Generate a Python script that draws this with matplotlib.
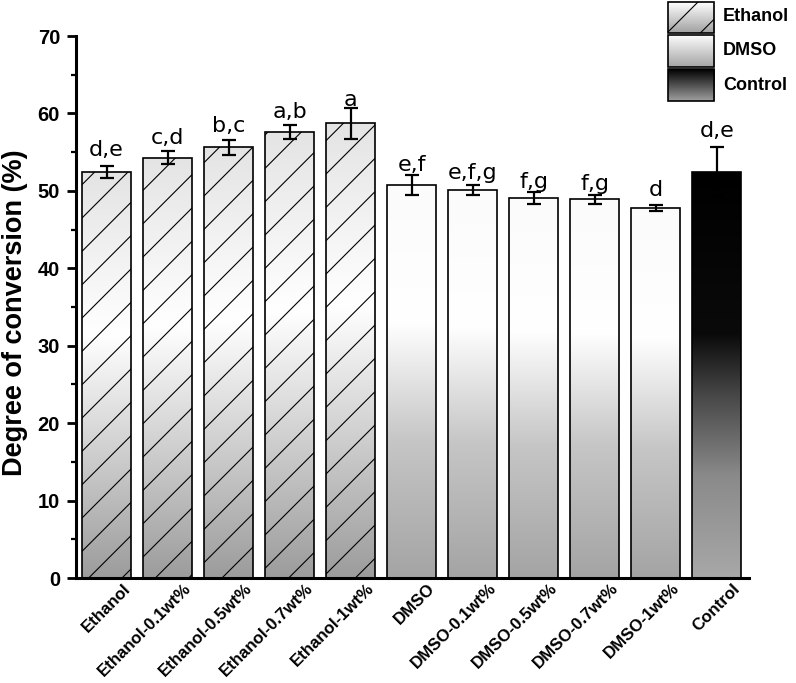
import numpy as np
import matplotlib
matplotlib.use("Agg")
import matplotlib.pyplot as plt
from matplotlib.colors import LinearSegmentedColormap
from matplotlib.patches import Rectangle
from matplotlib.transforms import ScaledTranslation
from matplotlib.ticker import MultipleLocator

plt.rcParams["font.family"] = ["Liberation Sans", "DejaVu Sans"]
plt.rcParams["hatch.linewidth"] = 0.8

groups = ["Ethanol", "Ethanol-0.1wt%", "Ethanol-0.5wt%", "Ethanol-0.7wt%", "Ethanol-1wt%",
          "DMSO", "DMSO-0.1wt%", "DMSO-0.5wt%", "DMSO-0.7wt%", "DMSO-1wt%", "Control"]
solvent = ["Ethanol"] * 5 + ["DMSO"] * 5 + ["Control"]
dc_mean = [52.4, 54.3, 55.6, 57.6, 58.7, 50.8, 50.1, 49.1, 48.9, 47.8, 52.5]
dc_err = [0.8, 0.8, 1.0, 0.85, 2.0, 1.3, 0.65, 0.8, 0.6, 0.4, 3.1]
letters = ["d,e", "c,d", "b,c", "a,b", "a", "e,f", "e,f,g", "f,g", "f,g", "d", "d,e"]
letter_gap = [1.3, 0.9, 1.0, 0.9, 0.2, 0.5, 0.75, 0.5, 0.6, 1.1, 1.3]
legend_names = ["Ethanol", "DMSO", "Control"]

# gradient fills, bottom -> top
CMAPS = {
    "Ethanol": LinearSegmentedColormap.from_list(
        "eth", [(0, "#9c9c9c"), (0.6, "#ffffff"), (1, "#e4e4e4")]),
    "DMSO": LinearSegmentedColormap.from_list(
        "dmso", [(0, "#a4a4a4"), (0.35, "#c6c6c6"), (0.65, "#ffffff"), (1, "#fbfbfb")]),
    "Control": LinearSegmentedColormap.from_list(
        "ctl", [(0, "#a8a8a8"), (0.25, "#8a8a8a"), (0.45, "#474747"),
                (0.6, "#0a0a0a"), (1, "#000000")]),
}
LEG_CMAPS = {
    "Ethanol": LinearSegmentedColormap.from_list("le", ["#a0a0a0", "#ffffff"]),
    "DMSO": LinearSegmentedColormap.from_list("ld", ["#a4a4a4", "#ffffff"]),
    "Control": LinearSegmentedColormap.from_list("lc", ["#a0a0a0", "#000000"]),
}
grad = np.linspace(0, 1, 256).reshape(-1, 1)


def main():
    fig = plt.figure(figsize=(7.96, 6.83), dpi=100)
    ax = fig.add_axes([76 / 796, 1 - 578 / 683, (749 - 76) / 796, (578 - 36) / 683])
    ax.set_xlim(-0.5, 10.53)
    ax.set_ylim(0, 70)
    ax.set_autoscale_on(False)

    x = np.arange(len(groups))
    w = 0.8
    bars = ax.bar(x, dc_mean, width=w, facecolor="none", edgecolor="black",
                  linewidth=1.2, zorder=3)
    for b, s in zip(bars, solvent):
        bx = b.get_x()
        im = ax.imshow(grad, cmap=CMAPS[s], origin="lower", aspect="auto",
                       extent=[bx, bx + b.get_width(), 0, b.get_height()], zorder=2)
        im.set_clip_path(b)
        if s == "Ethanol":
            b.set_hatch("/")

    ax.errorbar(x, dc_mean, yerr=dc_err, fmt="none", ecolor="black",
                elinewidth=1.6, capsize=5, capthick=1.6, zorder=4)

    for xi, m, e, lab, g in zip(x, dc_mean, dc_err, letters, letter_gap):
        ax.text(xi, m + e + g, lab, ha="center", va="baseline", fontsize=16,
                family="DejaVu Sans", zorder=5)

    for side in ["top", "right"]:
        ax.spines[side].set_visible(False)
    for side in ["left", "bottom"]:
        ax.spines[side].set_linewidth(2.2)

    ax.yaxis.set_major_locator(MultipleLocator(10))
    ax.yaxis.set_minor_locator(MultipleLocator(5))
    ax.tick_params(axis="y", which="major", length=6.5, width=2, direction="out",
                   labelsize=14.5, pad=5)
    ax.tick_params(axis="y", which="minor", length=3.5, width=1.6, direction="out")
    for t in ax.get_yticklabels():
        t.set_fontweight("bold")

    ax.set_xticks(x)
    ax.set_xticklabels(groups, rotation=45, ha="right", va="top",
                       rotation_mode="anchor", fontsize=12.2, fontweight="bold")
    ax.tick_params(axis="x", length=0, pad=2)
    shift = ScaledTranslation(0.16, 0, fig.dpi_scale_trans)
    for t in ax.get_xticklabels():
        t.set_transform(t.get_transform() + shift)

    ax.set_ylabel("Degree of conversion (%)", fontsize=19.5, fontweight="bold")
    ax.yaxis.set_label_coords(-0.071, 0.49)

    # legend drawn by hand so the boxes keep their gradients
    lax = fig.add_axes([667 / 796, 1 - 102 / 683, 48 / 796, 101 / 683])
    lax.axis("off")
    boxes = [(1, 32), (34, 67), (69, 101)]
    for name, (y0, y1) in zip(legend_names, boxes):
        r = Rectangle((0.02, y0), 0.96, y1 - y0, facecolor="none", edgecolor="black",
                      linewidth=1.2, zorder=3, hatch="/" if name == "Ethanol" else None)
        lax.add_patch(r)
        im = lax.imshow(grad, cmap=LEG_CMAPS[name], origin="lower", aspect="auto",
                        extent=[0.02, 0.98, y1, y0], zorder=2)
        im.set_clip_path(r)
        fig.text(723 / 796, 1 - (y0 + y1) / 2 / 683, name, fontsize=13,
                 fontweight="bold", va="center", ha="left")
    lax.set_xlim(0, 1)
    lax.set_ylim(102, 0)

    fig.savefig("out.png", dpi=100)
    plt.close(fig)


if __name__ == "__main__":
    main()
